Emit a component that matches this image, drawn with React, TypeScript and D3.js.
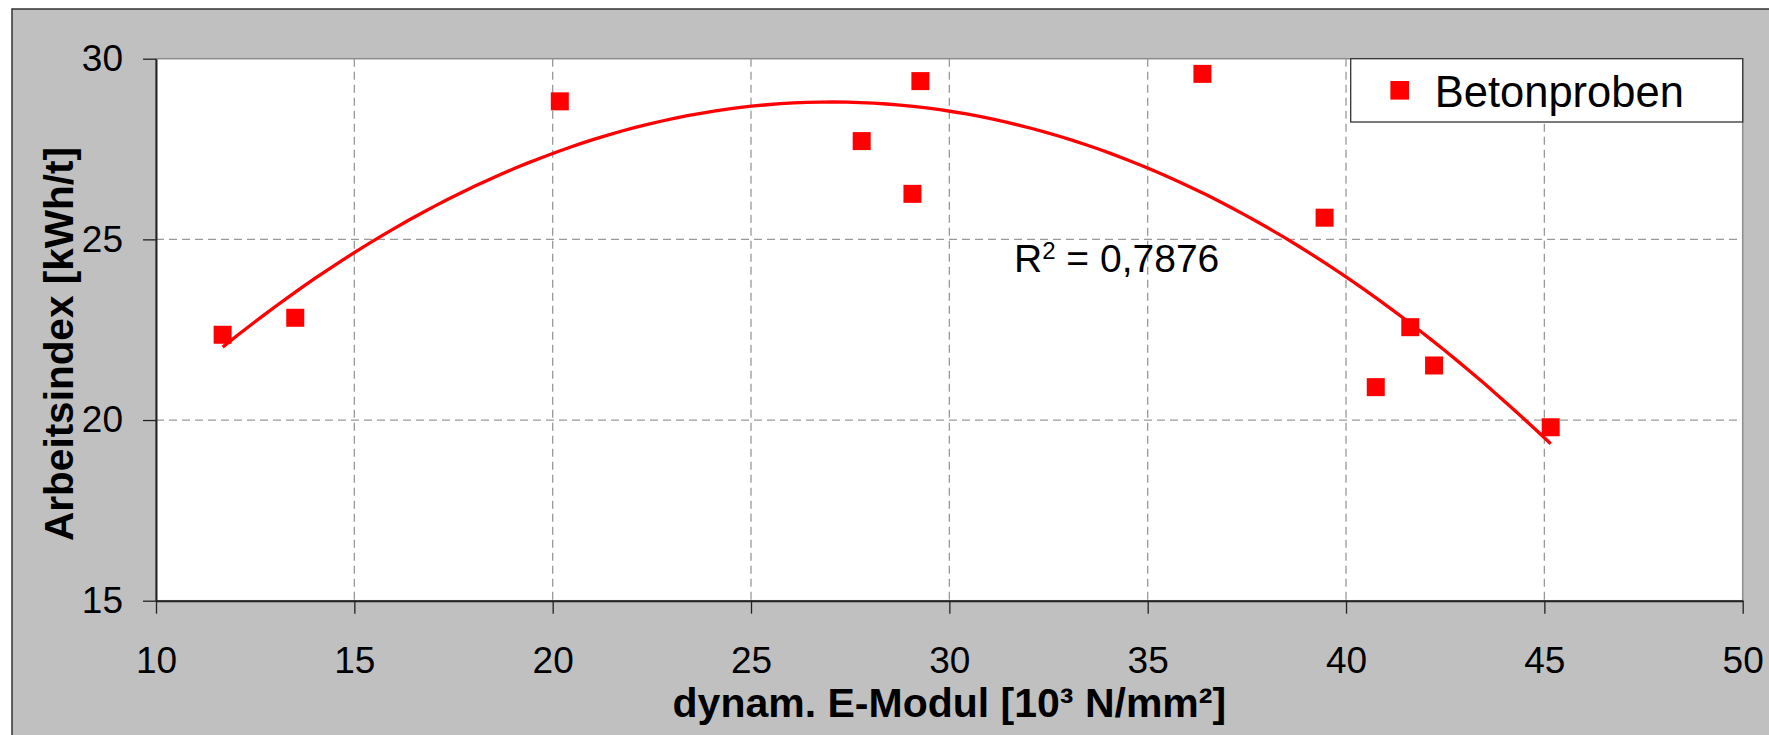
import React, { useEffect, useRef } from "react";
import * as d3 from "d3";

// E-Modul (x) and Arbeitsindex (y)
const eModul = [11.68, 13.51, 20.18, 27.79, 29.07, 29.27, 36.38, 39.46, 40.75, 41.62, 42.22, 45.16];
const arbeitsindex = [22.36, 22.83, 28.82, 27.72, 26.26, 29.38, 29.58, 25.6, 20.91, 22.57, 21.51, 19.8];

const xTicks = [10, 15, 20, 25, 30, 35, 40, 45, 50];
const yTicks = [15, 20, 25, 30];

const seriesName = "Betonproben";
const rSquaredLabel = "0,7876";

// least squares fit y = a + b x + c x^2 (polynomial trendline)
function quadFit(xs: number[], ys: number[]) {
  const s = [0, 0, 0, 0, 0];
  const t = [0, 0, 0];
  xs.forEach((x, i) => {
    for (let k = 0; k < 5; k++) s[k] += Math.pow(x, k);
    for (let k = 0; k < 3; k++) t[k] += ys[i] * Math.pow(x, k);
  });
  const m = [
    [s[0], s[1], s[2], t[0]],
    [s[1], s[2], s[3], t[1]],
    [s[2], s[3], s[4], t[2]],
  ];
  for (let i = 0; i < 3; i++) {
    for (let j = i + 1; j < 3; j++) {
      const f = m[j][i] / m[i][i];
      for (let k = i; k < 4; k++) m[j][k] -= f * m[i][k];
    }
  }
  const c = [0, 0, 0];
  for (let i = 2; i >= 0; i--) {
    let v = m[i][3];
    for (let k = i + 1; k < 3; k++) v -= m[i][k] * c[k];
    c[i] = v / m[i][i];
  }
  return (x: number) => c[0] + c[1] * x + c[2] * x * x;
}

const W = 1769;
const H = 735;
const margin = { top: 58.7, right: 26.3, bottom: 134.3, left: 156 };

export default function App() {
  const ref = useRef<SVGSVGElement>(null);

  useEffect(() => {
    const svg = d3.select(ref.current);
    svg.selectAll("*").remove();

    const width = W - margin.left - margin.right;
    const height = H - margin.top - margin.bottom;
    const font = "Arial, 'Liberation Sans', sans-serif";

    // chart area background
    svg.append("rect")
      .attr("x", 12).attr("y", 9)
      .attr("width", W).attr("height", H)
      .attr("fill", "#c0c0c0")
      .attr("stroke", "#333").attr("stroke-width", 1.5);

    const g = svg.append("g").attr("transform", `translate(${margin.left},${margin.top})`);

    const x = d3.scaleLinear().domain([10, 50]).range([0, width]);
    const y = d3.scaleLinear().domain([15, 30]).range([height, 0]);

    g.append("rect")
      .attr("width", width).attr("height", height)
      .attr("fill", "#fff")
      .attr("stroke", "#8c8c8c").attr("stroke-width", 1.5);

    // GRID
    g.selectAll(".vgrid")
      .data(xTicks.slice(1, -1))
      .enter().append("line")
      .attr("x1", d => x(d)).attr("x2", d => x(d))
      .attr("y1", 0).attr("y2", height)
      .attr("stroke", "#999").attr("stroke-width", 1.3)
      .attr("stroke-dasharray", "8,5");

    g.selectAll(".hgrid")
      .data(yTicks.slice(1, -1))
      .enter().append("line")
      .attr("x1", 0).attr("x2", width)
      .attr("y1", d => y(d)).attr("y2", d => y(d))
      .attr("stroke", "#999").attr("stroke-width", 1.3)
      .attr("stroke-dasharray", "8,5");

    // AXES
    const xAxis = g.append("g")
      .attr("transform", `translate(0,${height})`)
      .call(d3.axisBottom(x).tickValues(xTicks).tickSize(13).tickSizeOuter(0).tickPadding(33));
    const yAxis = g.append("g")
      .call(d3.axisLeft(y).tickValues(yTicks).tickSize(13).tickSizeOuter(0).tickPadding(20));

    [xAxis, yAxis].forEach(a => {
      a.select(".domain").attr("stroke", "#222").attr("stroke-width", 2);
      a.selectAll(".tick line").attr("stroke", "#222").attr("stroke-width", 1.3);
      a.selectAll("text")
        .attr("fill", "#000")
        .attr("font-family", font)
        .attr("font-size", 37);
    });

    // TRENDLINE
    const fit = quadFit(eModul, arbeitsindex);
    const [xmin, xmax] = d3.extent(eModul) as [number, number];
    const trend = d3.range(0, 101).map(i => {
      const xv = xmin + ((xmax - xmin) * i) / 100;
      return [xv, fit(xv)] as [number, number];
    });
    g.append("path")
      .datum(trend)
      .attr("fill", "none")
      .attr("stroke", "#ff0000")
      .attr("stroke-width", 3.3)
      .attr("d", d3.line<[number, number]>().x(d => x(d[0])).y(d => y(d[1])));

    // POINTS
    const size = 18;
    g.selectAll(".pt")
      .data(eModul.map((xv, i) => [xv, arbeitsindex[i]]))
      .enter().append("rect")
      .attr("x", d => x(d[0]) - size / 2)
      .attr("y", d => y(d[1]) - size / 2)
      .attr("width", size).attr("height", size)
      .attr("fill", "#ff0000");

    // R² label
    const r2 = g.append("text")
      .attr("x", x(31.63))
      .attr("y", y(24.1))
      .attr("font-family", font)
      .attr("font-size", 39)
      .attr("fill", "#000");
    r2.append("tspan").text("R");
    r2.append("tspan").attr("font-size", 24).attr("dy", -13).text("2");
    r2.append("tspan").attr("dy", 13).text(" = " + rSquaredLabel);

    // LEGEND
    const legend = g.append("g").attr("transform", `translate(${width - 392},0)`);
    legend.append("rect")
      .attr("width", 392).attr("height", 63.3)
      .attr("fill", "#fff")
      .attr("stroke", "#333").attr("stroke-width", 1.3);
    legend.append("rect")
      .attr("x", 39.7).attr("y", 22.3)
      .attr("width", 18.6).attr("height", 18.6)
      .attr("fill", "#ff0000");
    legend.append("text")
      .attr("x", 84).attr("y", 48.5)
      .attr("font-family", font)
      .attr("font-size", 43.5)
      .attr("fill", "#000")
      .text(seriesName);

    // AXIS TITLES
    svg.append("text")
      .attr("x", margin.left + width / 2)
      .attr("y", 717)
      .attr("text-anchor", "middle")
      .attr("font-family", font)
      .attr("font-size", 41)
      .attr("font-weight", "bold")
      .text("dynam. E-Modul [10³ N/mm²]");

    svg.append("text")
      .attr("transform", "rotate(-90)")
      .attr("x", -344)
      .attr("y", 73)
      .attr("text-anchor", "middle")
      .attr("font-family", font)
      .attr("font-size", 40.5)
      .attr("font-weight", "bold")
      .text("Arbeitsindex [kWh/t]");
  }, []);

  return (
    <svg
      ref={ref}
      width={W}
      height={H}
      style={{ position: "absolute", left: 0, top: 0, display: "block" }}
    />
  );
}
